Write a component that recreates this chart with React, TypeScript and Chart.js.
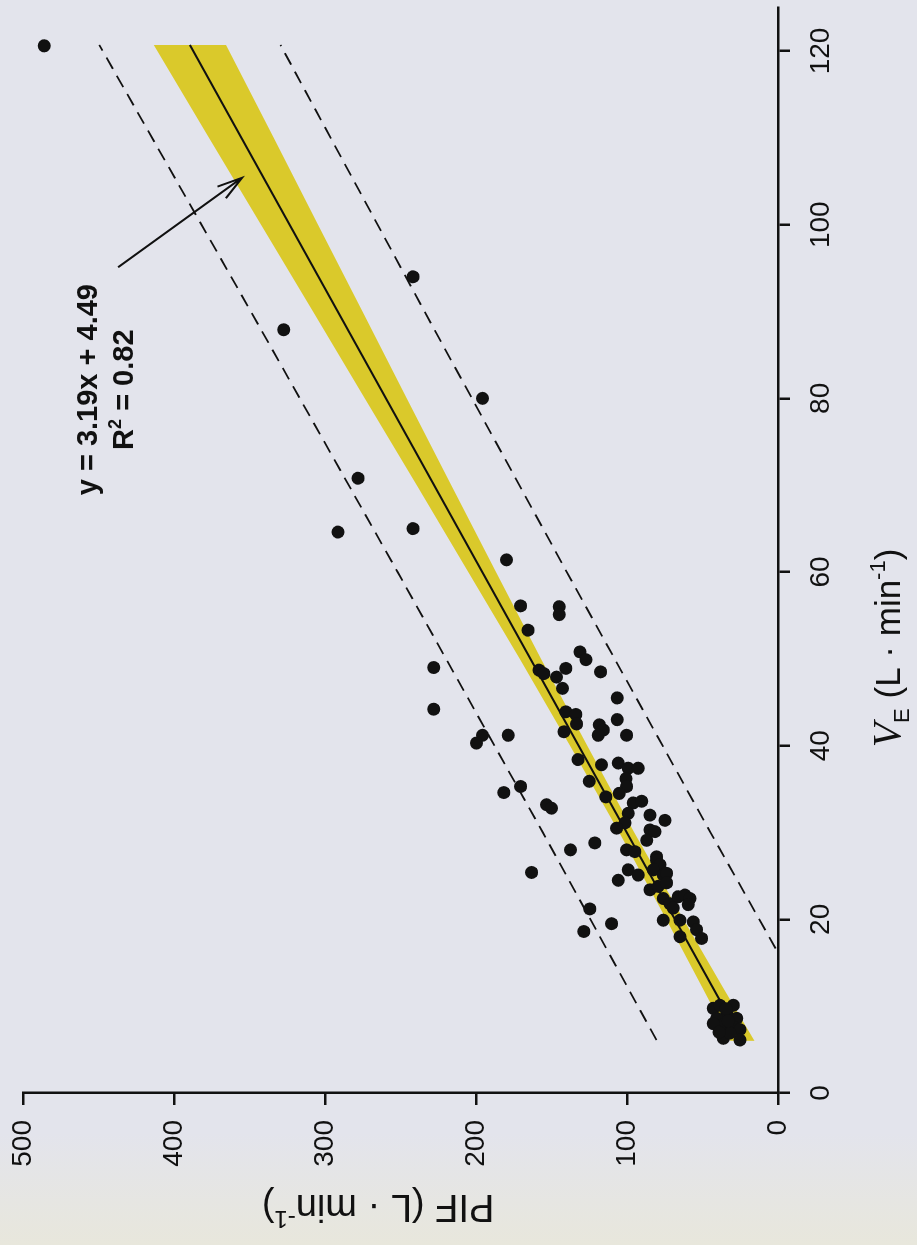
import React, { useEffect, useRef } from "react";
import { Chart, registerables } from "chart.js";

Chart.register(...registerables);

// canvas is drawn landscape and rotated 90deg counter-clockwise into the portrait page
const CW = 1245;
const CH = 917;

const veTicks = [0, 20, 40, 60, 80, 100, 120];
const pifTicks = [0, 100, 200, 300, 400, 500];

const obsVE = [
  120.6, 94.0, 87.9, 80.0, 70.8, 64.6, 65.0, 61.4, 56.1, 56.0, 55.1, 53.3, 49.0, 44.2,
  48.7, 48.3, 48.9, 50.8, 49.9, 48.5, 47.9, 46.6, 45.5, 43.9, 43.6, 42.5, 41.6, 42.4,
  41.8, 41.2, 43.0, 41.2, 41.2, 40.3, 41.2, 38.4, 37.8, 38.0, 37.4, 37.4, 36.2, 35.3,
  34.5, 35.9, 34.1, 34.6, 35.3, 33.2, 32.8, 33.4, 33.6, 32.0, 31.4, 32.2, 31.1, 30.5,
  30.3, 29.1, 28.8, 28.0, 28.0, 27.8, 27.2, 30.1, 25.4, 24.5, 25.7, 25.1, 26.8, 26.3,
  25.7, 25.1, 25.3, 23.4, 23.8, 24.2, 22.4, 21.8, 22.6, 22.8, 22.4, 21.7, 21.3, 19.9,
  19.9, 19.7, 18.8, 17.8, 18.0, 21.2, 18.6, 19.5,
  9.75, 10.1, 10.1, 9.2, 8.6, 8.6, 7.8, 7.6, 7.3, 6.3, 6.1, 8.0, 6.9, 9.7, 7.0, 8.3,
];
const obsPIF = [
  486, 241.7, 327.4, 195.7, 278.1, 291.4, 241.7, 179.8, 170.5, 144.9, 144.9, 165.5, 228.0, 228.0,
  158.2, 155.1, 140.5, 131.2, 127.2, 117.5, 146.7, 142.7, 106.5, 140.5, 133.9, 133.4, 141.8, 118.3,
  115.7, 119.1, 106.5, 100.3, 195.7, 199.7, 178.7, 132.4, 116.9, 105.8, 99.2, 92.6, 100.7, 100.3,
  105.2, 125.0, 114.0, 181.6, 170.5, 153.3, 150.0, 95.9, 90.3, 84.8, 74.9, 99.2, 101.4, 106.9,
  84.8, 87.0, 121.3, 137.4, 100.3, 94.8, 80.4, 81.5, 163.2, 105.8, 99.2, 92.6, 80.4, 78.2,
  82.6, 76.0, 73.8, 84.8, 79.3, 73.8, 76.0, 71.6, 66.1, 61.6, 58.3, 59.5, 69.4, 76.0,
  64.9, 56.1, 53.9, 50.6, 64.9, 124.6, 128.6, 110.2,
  42.9, 38.4, 29.6, 34.0, 40.6, 27.4, 37.3, 29.6, 25.2, 36.2, 25.2, 42.9, 31.8, 34.5, 39.0, 33.0,
];

// regression line y = 3.19x + 4.49
const fitVE = [6, 120.7];
const fitPIF = [23.6, 389.5];

// confidence band (yellow)
const bandVE = [6, 12, 20, 30, 40, 50, 60, 70, 80, 90, 100, 110, 120.7];
const bandLow = [15.6, 36.0, 62.6, 95.2, 126.4, 156.9, 186.7, 216.4, 245.8, 275.2, 304.6, 334.0, 365.6];
const bandHigh = [31.6, 49.6, 74.0, 105.2, 137.8, 171.1, 205.1, 239.2, 273.6, 308.0, 342.4, 376.8, 413.4];

// prediction interval (dashed)
const piVE = [6.1, 30, 60, 90, 120.7];
const piHigh = [80.5, 155.7, 251.9, 349.1, 449.5];
const piLow = [-32.5, 44.7, 139.9, 234.1, 329.5];

const eqLine1 = "y = 3.19x + 4.49";
const eqLine2Parts = ["R", "2", " = 0.82"];
const eqCenterVE = 81;
const eqBase1PIF = 451.3;
const eqBase2PIF = 427.4;
const arrowFrom = { ve: 95.1, pif: 437 };
const arrowTo = { ve: 105.4, pif: 355 };

const INK = "#111111";
const SANS = '"Liberation Sans", Arial, Helvetica, sans-serif';
const SERIF = '"Liberation Serif", "Times New Roman", serif';

type Seg = { t: string; font: string; dy: number };

function drawRich(ctx: CanvasRenderingContext2D, segs: Seg[], cx: number, base: number) {
  let total = 0;
  for (const s of segs) {
    ctx.font = s.font;
    total += ctx.measureText(s.t).width;
  }
  let x = cx - total / 2;
  ctx.textAlign = "left";
  ctx.textBaseline = "alphabetic";
  for (const s of segs) {
    ctx.font = s.font;
    ctx.fillText(s.t, x, base + s.dy);
    x += ctx.measureText(s.t).width;
  }
}

const overlay = {
  id: "overlay",
  afterDraw(chart: any) {
    const ctx: CanvasRenderingContext2D = chart.ctx;
    const xs = chart.scales.x;
    const ys = chart.scales.y;
    ctx.save();
    ctx.fillStyle = INK;
    ctx.strokeStyle = INK;

    // equation text
    const cx = xs.getPixelForValue(eqCenterVE);
    drawRich(ctx, [{ t: eqLine1, font: `bold 29px ${SANS}`, dy: 0 }], cx, ys.getPixelForValue(eqBase1PIF));
    drawRich(
      ctx,
      [
        { t: eqLine2Parts[0], font: `bold 29px ${SANS}`, dy: 0 },
        { t: eqLine2Parts[1], font: `bold 18px ${SANS}`, dy: -12 },
        { t: eqLine2Parts[2], font: `bold 29px ${SANS}`, dy: 0 },
      ],
      cx,
      ys.getPixelForValue(eqBase2PIF)
    );

    // arrow
    const fx = xs.getPixelForValue(arrowFrom.ve);
    const fy = ys.getPixelForValue(arrowFrom.pif);
    const tx = xs.getPixelForValue(arrowTo.ve);
    const ty = ys.getPixelForValue(arrowTo.pif);
    ctx.lineWidth = 2;
    ctx.beginPath();
    ctx.moveTo(fx, fy);
    ctx.lineTo(tx, ty);
    const a = Math.atan2(ty - fy, tx - fx);
    const hl = 26;
    const ha = 0.28;
    ctx.moveTo(tx - hl * Math.cos(a - ha), ty - hl * Math.sin(a - ha));
    ctx.lineTo(tx, ty);
    ctx.lineTo(tx - hl * Math.cos(a + ha), ty - hl * Math.sin(a + ha));
    ctx.stroke();

    // x axis title: V_E (L · min^-1)
    drawRich(
      ctx,
      [
        { t: "V", font: `italic 40px ${SERIF}`, dy: 0 },
        { t: "E", font: `22px ${SANS}`, dy: 9 },
        { t: " (L · min", font: `35px ${SANS}`, dy: 0 },
        { t: "-1", font: `22px ${SANS}`, dy: -15 },
        { t: ")", font: `35px ${SANS}`, dy: 0 },
      ],
      597,
      900
    );

    // y axis title: PIF (L · min^-1), rotated
    ctx.translate(50, 378);
    ctx.rotate(-Math.PI / 2);
    drawRich(
      ctx,
      [
        { t: "PIF (L · min", font: `38px ${SANS}`, dy: 0 },
        { t: "-1", font: `24px ${SANS}`, dy: -16 },
        { t: ")", font: `38px ${SANS}`, dy: 0 },
      ],
      0,
      0
    );
    ctx.restore();
  },
};

function pts(xs: number[], ys: number[]) {
  return xs.map((x, i) => ({ x, y: ys[i] }));
}

export default function App() {
  const ref = useRef<HTMLCanvasElement>(null);

  useEffect(() => {
    document.body.style.margin = "0";
    const canvas = ref.current;
    if (!canvas) return;
    const axisCommon = {
      type: "linear" as const,
      grid: {
        display: true,
        drawOnChartArea: false,
        drawTicks: true,
        tickLength: 12,
        color: INK,
        lineWidth: 2.5,
      },
      border: { display: true, color: INK, width: 2.5 },
      title: { display: false },
    };
    const chart = new Chart(canvas, {
      type: "line",
      data: {
        datasets: [
          {
            label: "band low",
            data: pts(bandVE, bandLow),
            borderColor: "transparent",
            borderWidth: 0,
            pointRadius: 0,
            fill: false,
            order: 4,
          },
          {
            label: "band high",
            data: pts(bandVE, bandHigh),
            borderColor: "transparent",
            borderWidth: 0,
            pointRadius: 0,
            backgroundColor: "#dac92b",
            fill: "-1",
            order: 4,
          },
          {
            label: "fit",
            data: pts(fitVE, fitPIF),
            borderColor: INK,
            borderWidth: 2.2,
            pointRadius: 0,
            fill: false,
            order: 2,
          },
          {
            label: "pi high",
            data: pts(piVE, piHigh),
            borderColor: INK,
            borderWidth: 1.8,
            borderDash: [13, 8],
            pointRadius: 0,
            fill: false,
            order: 3,
          },
          {
            label: "pi low",
            data: pts(piVE, piLow),
            borderColor: INK,
            borderWidth: 1.8,
            borderDash: [13, 8],
            pointRadius: 0,
            fill: false,
            order: 3,
          },
          {
            label: "PIF",
            data: pts(obsVE, obsPIF),
            showLine: false,
            pointRadius: 6.5,
            pointBackgroundColor: INK,
            pointBorderWidth: 0,
            pointBorderColor: INK,
            order: 0,
          },
        ],
      },
      options: {
        responsive: false,
        animation: false,
        devicePixelRatio: 1,
        layout: { padding: { top: 23, right: 7.6, left: 0, bottom: 0 } },
        plugins: {
          legend: { display: false },
          tooltip: { enabled: false },
          title: { display: false },
        },
        scales: {
          x: {
            ...axisCommon,
            min: 0,
            max: 125,
            afterBuildTicks: (s: any) => {
              s.ticks = veTicks.map((v) => ({ value: v }));
            },
            afterFit: (s: any) => {
              s.height = 139;
              s.paddingLeft = 0;
              s.paddingRight = 0;
            },
            ticks: {
              color: INK,
              font: { family: SANS, size: 28 },
              padding: 14,
              maxRotation: 0,
              autoSkip: false,
            },
          },
          y: {
            ...axisCommon,
            min: 0,
            max: 500,
            afterBuildTicks: (s: any) => {
              s.ticks = pifTicks.map((v) => ({ value: v }));
            },
            afterFit: (s: any) => {
              s.width = 152;
              s.paddingTop = 0;
              s.paddingBottom = 0;
            },
            ticks: {
              color: INK,
              font: { family: SANS, size: 28 },
              padding: 15,
              autoSkip: false,
            },
          },
        },
      } as any,
      plugins: [overlay],
    });
    return () => chart.destroy();
  }, []);

  return (
    <div
      style={{
        position: "fixed",
        left: 0,
        top: 0,
        width: CH,
        height: CW,
        overflow: "hidden",
        background: "linear-gradient(to bottom, #e3e4ec 0%, #e3e4ec 91%, #e8e7dc 100%)",
      }}
    >
      <div
        style={{
          position: "absolute",
          left: 0,
          top: 0,
          width: CW,
          height: CH,
          transformOrigin: "0 0",
          transform: `translateY(${CW}px) rotate(-90deg)`,
        }}
      >
        <canvas ref={ref} width={CW} height={CH} style={{ display: "block", width: CW, height: CH }} />
      </div>
    </div>
  );
}
